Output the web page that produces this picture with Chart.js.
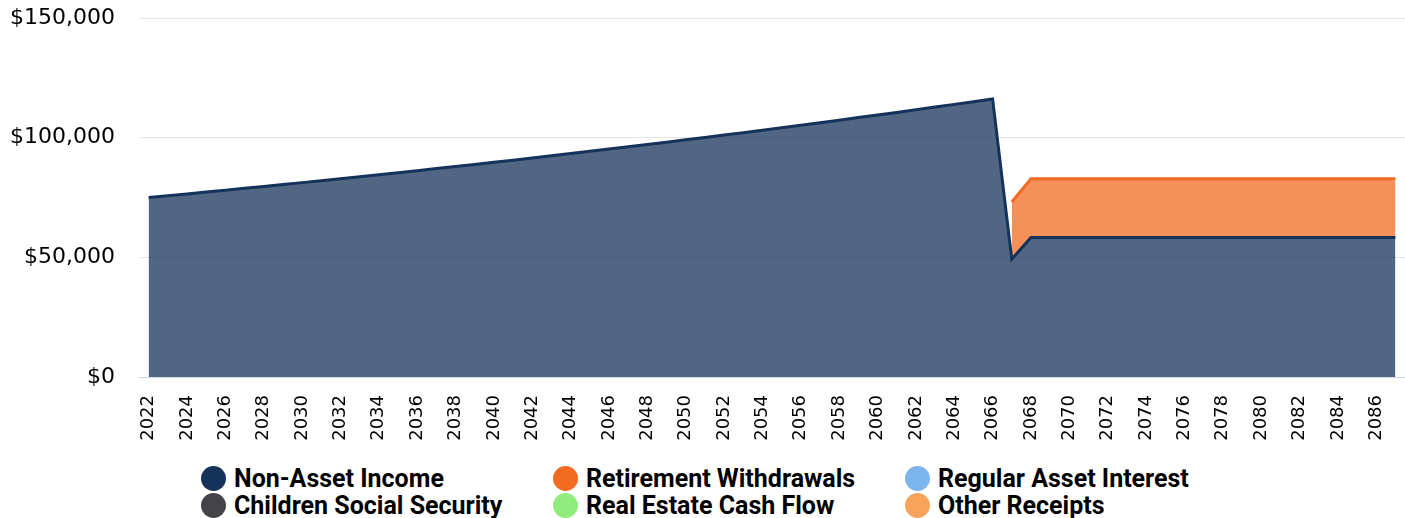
<!DOCTYPE html>
<html>
<head>
<meta charset="utf-8">
<script src="https://cdn.jsdelivr.net/npm/chart.js@4.4.1/dist/chart.umd.min.js"></script>
<style>
  html, body { margin: 0; padding: 0; background: #fff; }
  #wrap { position: relative; width: 1405px; height: 518px; overflow: hidden; }
  #chartBox { position: absolute; left: 0; top: 0; width: 1405px; height: 460px; }
  #legend {
    position: absolute; left: 201px; top: 465px;
    display: grid; grid-template-columns: 352px 352px 352px;
    grid-auto-rows: 27px;
    font-family: Roboto, sans-serif; font-weight: 700; font-size: 25px; line-height: 27px; color: #000;
  }
  .item { display: flex; align-items: center; white-space: nowrap; }
  .dot { width: 25px; height: 25px; border-radius: 50%; margin-right: 8px; flex: none; }
</style>
</head>
<body>
<div id="wrap">
  <div id="chartBox"><canvas id="c"></canvas></div>
  <div id="legend"></div>
</div>
<script>
const years = [
  2022, 2023, 2024, 2025, 2026, 2027, 2028, 2029, 2030, 2031,
  2032, 2033, 2034, 2035, 2036, 2037, 2038, 2039, 2040, 2041,
  2042, 2043, 2044, 2045, 2046, 2047, 2048, 2049, 2050, 2051,
  2052, 2053, 2054, 2055, 2056, 2057, 2058, 2059, 2060, 2061,
  2062, 2063, 2064, 2065, 2066, 2067, 2068, 2069, 2070, 2071,
  2072, 2073, 2074, 2075, 2076, 2077, 2078, 2079, 2080, 2081,
  2082, 2083, 2084, 2085, 2086, 2087
];

const nonAssetIncome = [
  75000, 75750, 76508, 77273, 78045, 78826, 79614, 80410, 81214, 82026,
  82847, 83675, 84512, 85357, 86211, 87073, 87943, 88823, 89711, 90608,
  91514, 92429, 93354, 94287, 95230, 96182, 97144, 98116, 99097, 100088,
  101089, 102100, 103121, 104152, 105193, 106245, 107308, 108381, 109465, 110559,
  111665, 112781, 113909, 115048, 116199, 49200, 58300, 58300, 58300, 58300,
  58300, 58300, 58300, 58300, 58300, 58300, 58300, 58300, 58300, 58300,
  58300, 58300, 58300, 58300, 58300, 58300
];

const retirementWithdrawals = [
  null, null, null, null, null, null, null, null, null, null,
  null, null, null, null, null, null, null, null, null, null,
  null, null, null, null, null, null, null, null, null, null,
  null, null, null, null, null, null, null, null, null, null,
  null, null, null, null, null, 23900, 24500, 24500, 24500, 24500,
  24500, 24500, 24500, 24500, 24500, 24500, 24500, 24500, 24500, 24500,
  24500, 24500, 24500, 24500, 24500, 24500
];

// series with nothing to show in this plan
const childrenSocialSecurity = years.map(() => null);
const realEstateCashFlow = years.map(() => null);
const regularAssetInterest = years.map(() => null);
const otherReceipts = years.map(() => null);

const yTicks = [0, 50000, 100000, 150000];

const COLORS = {
  nonAsset: "#15335a",
  children: "#434348",
  retirement: "#f26b21",
  realEstate: "#90ed7d",
  interest: "#7cb5ec",
  other: "#f7a35c"
};

function fade(hex, a) {
  const n = parseInt(hex.slice(1), 16);
  return `rgba(${n >> 16},${(n >> 8) & 255},${n & 255},${a})`;
}

function series(label, data, color, fill) {
  return {
    label, data,
    borderColor: color,
    backgroundColor: fade(color, 0.75),
    borderWidth: 3,
    pointRadius: 0,
    tension: 0,
    fill
  };
}

const datasets = [
  series("Non-Asset Income", nonAssetIncome, COLORS.nonAsset, "origin"),
  series("Retirement Withdrawals", retirementWithdrawals, COLORS.retirement, "-1"),
  series("Children Social Security", childrenSocialSecurity, COLORS.children, "-1"),
  series("Real Estate Cash Flow", realEstateCashFlow, COLORS.realEstate, "-1"),
  series("Regular Asset Interest", regularAssetInterest, COLORS.interest, "-1"),
  series("Other Receipts", otherReceipts, COLORS.other, "-1")
];

const legendOrder = [
  "Non-Asset Income", "Retirement Withdrawals", "Regular Asset Interest",
  "Children Social Security", "Real Estate Cash Flow", "Other Receipts"
];

// drop the automatic label overhang so the plot area sits where we want it
function noOverhang(s) {
  s.paddingTop = 0; s.paddingBottom = 0;
  s.paddingLeft = 0; s.paddingRight = 0;
}

const chart = new Chart(document.getElementById("c").getContext("2d"), {
  type: "line",
  data: { labels: years, datasets },
  options: {
    responsive: true,
    maintainAspectRatio: false,
    animation: false,
    layout: { padding: { top: 18, right: 0, left: 0, bottom: 0 } },
    plugins: {
      legend: { display: false },
      tooltip: { enabled: false }
    },
    scales: {
      x: {
        offset: true,
        grid: { display: false, drawTicks: false },
        border: { display: true, color: "#ccd6eb", width: 1 },
        ticks: {
          autoSkip: false,
          minRotation: 90,
          maxRotation: 90,
          padding: 18,
          color: "#000",
          font: { family: "DejaVu Sans", size: 18 },
          callback: (v, i) => (i % 2 === 0 ? years[i] : "")
        },
        afterFit: s => { s.height = 83; noOverhang(s); }
      },
      y: {
        stacked: true,
        min: 0,
        max: 150000,
        afterBuildTicks: s => { s.ticks = yTicks.map(v => ({ value: v })); },
        grid: { color: "#e6e6e6", lineWidth: 1, drawTicks: false },
        border: { display: false },
        ticks: {
          padding: 24,
          color: "#000",
          font: { family: "DejaVu Sans", size: 22 },
          callback: v => "$" + v.toLocaleString("en-US")
        },
        afterFit: s => { s.width = 139; noOverhang(s); }
      }
    }
  }
});

const legendEl = document.getElementById("legend");
for (const name of legendOrder) {
  const ds = chart.data.datasets.find(d => d.label === name);
  const item = document.createElement("div");
  item.className = "item";
  item.innerHTML = `<span class="dot" style="background:${ds.borderColor}"></span><span>${name}</span>`;
  legendEl.appendChild(item);
}
</script>
</body>
</html>
